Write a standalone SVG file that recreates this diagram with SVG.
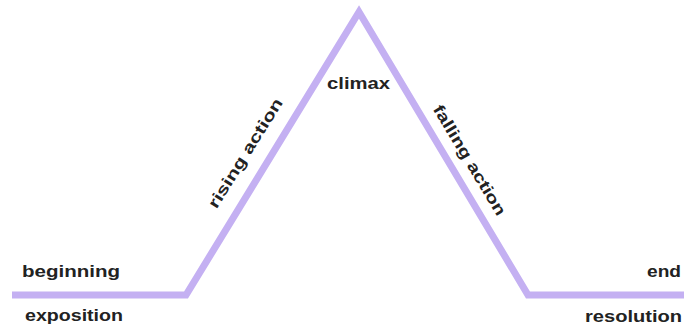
<svg xmlns="http://www.w3.org/2000/svg" width="684" height="326" viewBox="0 0 684 326">
<style>
.t{font-family:"Liberation Sans",Arial,sans-serif;font-weight:bold;font-size:16px;fill:#222}
.arc{fill:none;stroke:#c4b0f2;stroke-width:7;stroke-linejoin:miter}
</style>
<rect width="684" height="326" fill="#fff"/>
<g id="plot-line">
<polyline class="arc" points="12,295 186,295 359,12 528,295 684,295"/>
</g>
<g id="labels">
<text class="t" x="22" y="277" textLength="98" lengthAdjust="spacingAndGlyphs">beginning</text>
<text class="t" x="25" y="321" textLength="98" lengthAdjust="spacingAndGlyphs">exposition</text>
<text class="t" x="327" y="89" textLength="63" lengthAdjust="spacingAndGlyphs">climax</text>
<text class="t" x="647" y="277" textLength="34" lengthAdjust="spacingAndGlyphs">end</text>
<text class="t" x="585" y="322" textLength="97" lengthAdjust="spacingAndGlyphs">resolution</text>
<text class="t" text-anchor="middle" transform="translate(250,156) rotate(-58)" textLength="126" lengthAdjust="spacingAndGlyphs">rising action</text>
<text class="t" text-anchor="middle" transform="translate(465,163) rotate(59)" textLength="126" lengthAdjust="spacingAndGlyphs">falling action</text>
</g>
</svg>
